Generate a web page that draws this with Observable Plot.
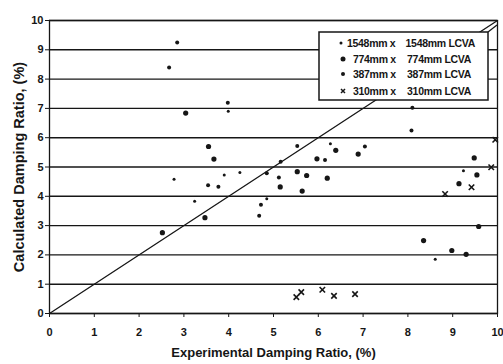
<!DOCTYPE html>
<html><head><meta charset="utf-8">
<script src="https://cdn.jsdelivr.net/npm/d3@7"></script>
<script src="https://cdn.jsdelivr.net/npm/@observablehq/plot@0.6"></script>
<style>
body{margin:0;background:#fff}
svg{font-family:"Liberation Sans",Arial,sans-serif}
</style>
</head><body><div id="chart"></div>
<script>
// Series (experimental %, calculated %)
const s1548x = [3.99, 3.90, 4.25, 3.24, 6.27, 9.24, 8.61, 2.78, 4.85];
const s1548y = [6.90, 4.73, 4.81, 3.83, 5.79, 4.87, 1.85, 4.58, 3.92];
const s774x = [3.04, 3.55, 3.67, 2.52, 5.53, 5.74, 6.20, 6.89, 6.39, 5.97, 9.48, 9.54, 9.14, 9.58, 8.35, 8.98, 9.30, 3.47, 5.64, 5.15];
const s774y = [6.84, 5.70, 5.27, 2.76, 4.84, 4.71, 4.62, 5.44, 5.57, 5.28, 5.31, 4.73, 4.43, 2.97, 2.49, 2.15, 2.02, 3.27, 4.18, 4.32];
const s387x = [2.85, 2.67, 3.98, 3.54, 3.77, 5.53, 7.04, 6.15, 5.16, 4.85, 5.12, 4.72, 4.68, 8.08, 8.10];
const s387y = [9.25, 8.40, 7.19, 4.38, 4.33, 5.72, 5.70, 5.24, 5.18, 4.79, 4.64, 3.71, 3.34, 6.25, 7.02];
const s310x = [5.51, 5.62, 6.09, 6.35, 6.82, 8.83, 9.42, 9.86, 9.95];
const s310y = [0.56, 0.73, 0.81, 0.60, 0.66, 4.08, 4.31, 4.99, 5.93];
const legendA = ["1548mm x", "774mm x", "387mm x", "310mm x"];
const legendB = ["1548mm LCVA", "774mm LCVA", "387mm LCVA", "310mm LCVA"];
const xTicks = [0,1,2,3,4,5,6,7,8,9,10];
const yTicks = [0,1,2,3,4,5,6,7,8,9,10];
const diagonal = [0, 10];
const xLabel = "Experimental Damping Ratio, (%)";
const yLabel = "Calculated Damping Ratio, (%)";

const mk = (xs, ys, s) => xs.map((x, i) => ({x, y: ys[i], s}));
const d1548 = mk(s1548x, s1548y, 0);
const d774 = mk(s774x, s774y, 1);
const d387 = mk(s387x, s387y, 2);
const d310 = mk(s310x, s310y, 3);

const ink = "#161616";
const plot = Plot.plot({
  width: 503, height: 364,
  marginLeft: 49, marginRight: 6, marginTop: 20, marginBottom: 51,
  style: {fontFamily: '"Liberation Sans", Arial, sans-serif', fontSize: "11px", fontWeight: "bold", color: ink, background: "#fff", overflow: "visible"},
  x: {domain: [0, 10]},
  y: {domain: [0, 10]},
  marks: [
    Plot.ruleY(yTicks, {stroke: ink, strokeWidth: 1.4}),
    Plot.frame({stroke: ink, strokeWidth: 1.3}),
    Plot.axisX({ticks: xTicks, tickSize: 4, tickPadding: 11, label: null, stroke: ink}),
    Plot.axisY({ticks: yTicks, tickSize: 4, tickPadding: 2, label: null, stroke: ink}),
    Plot.line(diagonal, {x: d => d, y: d => d, stroke: ink, strokeWidth: 1.3}),
    Plot.dot(d1548, {x: "x", y: "y", r: 1.5, fill: ink, stroke: "none"}),
    Plot.dot(d774, {x: "x", y: "y", r: 2.6, fill: ink, stroke: "none"}),
    Plot.dot(d387, {x: "x", y: "y", r: 2.0, fill: ink, stroke: "none"}),
    Plot.dot(d310, {x: "x", y: "y", r: 2.6, symbol: "times", stroke: ink, strokeWidth: 1.6}),
    Plot.text([xLabel], {frameAnchor: "bottom", textAnchor: "middle", lineAnchor: "middle", dy: 39, fontSize: 13, fontWeight: "bold", letterSpacing: -0.2}),
    Plot.text([yLabel], {frameAnchor: "left", textAnchor: "middle", lineAnchor: "middle", dx: -30, rotate: -90, fontSize: 14.5, fontWeight: "bold"})
  ]
});
document.getElementById("chart").appendChild(plot);

// Legend box (drawn over the plot, opaque)
const svg = d3.select(plot);
const g = svg.append("g").attr("font-size", 10.5).attr("font-weight", "bold").attr("fill", ink).attr("text-anchor", "start");
const bx = 319, by = 32, bw = 169, bh = 68;
g.append("path").attr("d", `M${bx+bw},${by} L${bx+bw+9},${by-7}`).attr("stroke", ink).attr("stroke-width", 1.3).attr("fill", "none");
g.append("rect").attr("x", bx).attr("y", by).attr("width", bw).attr("height", bh)
  .attr("fill", "#fff").attr("stroke", ink).attr("stroke-width", 1.5);
const rowY = [43, 59, 74, 91];
const rowR = [1.5, 2.5, 2.0, 0];
const markX = [341, 343, 343, 343];
const textX = [347, 353, 353, 353];
const endX = [475, 471, 471, 471];
legendA.forEach((a, i) => {
  const y = rowY[i];
  if (i < 3) g.append("circle").attr("cx", markX[i]).attr("cy", y).attr("r", rowR[i]).attr("fill", ink);
  else g.append("path").attr("d", `M${markX[i]-2},${y-2}L${markX[i]+2},${y+2}M${markX[i]-2},${y+2}L${markX[i]+2},${y-2}`).attr("stroke", ink).attr("stroke-width", 1.5);
  g.append("text").attr("x", textX[i]).attr("y", y).attr("dy", "0.35em").attr("text-anchor", "start").attr("letter-spacing", -0.3).text(a);
  g.append("text").attr("x", endX[i]).attr("y", y).attr("dy", "0.35em").attr("text-anchor", "end").attr("letter-spacing", -0.3).text(legendB[i]);
});
</script>
</body></html>
